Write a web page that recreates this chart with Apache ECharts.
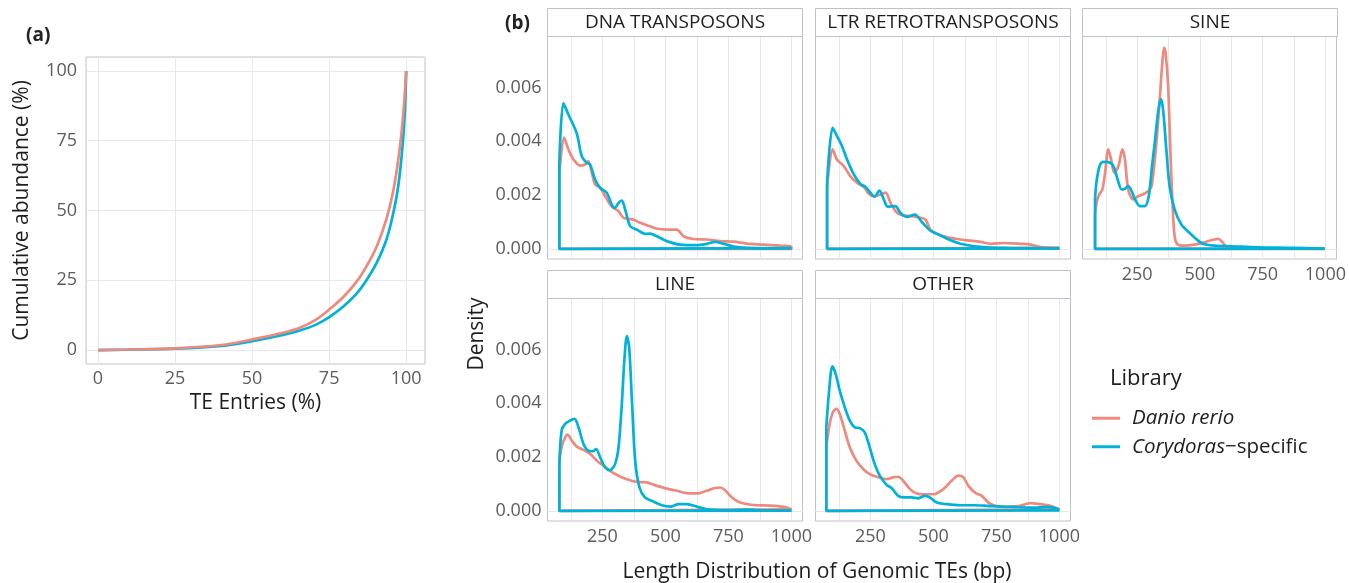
<!DOCTYPE html>
<html>
<head>
<meta charset="utf-8">
<script src="https://cdn.jsdelivr.net/npm/echarts@6/dist/echarts.min.js"></script>
<style>
html,body{margin:0;padding:0;background:#fff;}
#chart{width:1349px;height:583px;}
</style>
</head>
<body>
<div id="chart"></div>
<script>
// ---------- DATA ----------
const libraries = ['Danio rerio', 'Corydoras-specific'];
const facetNames = ['DNA TRANSPOSONS', 'LTR RETROTRANSPOSONS', 'SINE', 'LINE', 'OTHER'];

// Panel (a): cumulative abundance
const cumDanioX = [0, 10, 25, 40, 50, 60, 65.5, 70.9, 75, 79.6, 83.9, 87.1, 90.4, 93.6, 95.8, 97.4, 98.5, 99.4, 100];
const cumDanioY = [0, 0.2, 0.6, 1.8, 3.8, 6.2, 8, 11, 14.5, 19, 24.5, 30, 37, 47, 57, 68, 78, 89.6, 100];
const cumCoryX = [0, 10, 25, 40, 50, 60, 65.5, 70.9, 75, 79.6, 83.9, 87.1, 90.4, 93.6, 95.8, 97.4, 98.8, 99.6, 100];
const cumCoryY = [0, 0.15, 0.5, 1.5, 3.2, 5.4, 7, 9.2, 11.8, 15.6, 20.2, 25, 31.2, 39.6, 49, 58.6, 72.9, 86, 100];
const cumTicks = [0, 25, 50, 75, 100];

// Panel (b): length densities
const dnaDanioLen = [79, 98, 115, 135, 161, 181, 194, 208, 221, 241, 261, 287, 314, 333, 353, 373, 400, 439, 466, 505, 545, 572, 611, 664, 717, 770, 823, 889, 956, 1000];
const dnaDanioDens = [0.0028, 0.00414, 0.0037, 0.00333, 0.0031, 0.00314, 0.00327, 0.00283, 0.0024, 0.00227, 0.00196, 0.00157, 0.0014, 0.00116, 0.00112, 0.00109, 0.00097, 0.00084, 0.00075, 0.00072, 0.00072, 0.00047, 0.00037, 0.00035, 0.00029, 0.00027, 0.0002, 0.00016, 0.00012, 0.0001];
const dnaCoryLen = [79, 95, 115, 148, 168, 188, 201, 221, 241, 267, 287, 300, 314, 327, 340, 360, 386, 419, 439, 466, 505, 558, 625, 664, 697, 731, 770, 823, 956, 1000];
const dnaCoryDens = [0.0032, 0.00542, 0.005, 0.0043, 0.00345, 0.0032, 0.00314, 0.00258, 0.00227, 0.00209, 0.00165, 0.00153, 0.00171, 0.0018, 0.00147, 0.00085, 0.00072, 0.00056, 0.00057, 0.00047, 0.00029, 0.00016, 0.00014, 0.00019, 0.00026, 0.00019, 0.00009, 0.00004, 0.00002, 0.00003];

const ltrDanioLen = [78, 100, 117, 144, 170, 197, 224, 243, 263, 290, 310, 330, 356, 383, 416, 449, 469, 488, 515, 555, 595, 634, 687, 727, 780, 846, 886, 926, 1000];
const ltrDanioDens = [0.0023, 0.0037, 0.00333, 0.00308, 0.00271, 0.00246, 0.0023, 0.00205, 0.00196, 0.00202, 0.00209, 0.00171, 0.00134, 0.00124, 0.00122, 0.00116, 0.00109, 0.00072, 0.00056, 0.00043, 0.00037, 0.00032, 0.00026, 0.00019, 0.00022, 0.00019, 0.00016, 0.00007, 0.00004];
const ltrCoryLen = [78, 100, 117, 137, 157, 184, 210, 230, 250, 266, 286, 303, 319, 349, 369, 396, 426, 455, 488, 528, 568, 608, 661, 714, 793, 899, 1000];
const ltrCoryDens = [0.00246, 0.00451, 0.0042, 0.00383, 0.00333, 0.00277, 0.00242, 0.00231, 0.00209, 0.00194, 0.00217, 0.00184, 0.00157, 0.00159, 0.00134, 0.00119, 0.00128, 0.00099, 0.00068, 0.0005, 0.00032, 0.00019, 0.0001, 0.00006, 0.00004, 0.00003, 0.00002];

const sineDanioLen = [82, 90, 100, 111, 122, 135, 146, 159, 175, 191, 201, 214, 234, 254, 280, 300, 309, 326, 340, 349, 357, 363, 373, 382, 390, 399, 412, 439, 478, 518, 557, 573, 590, 604, 637, 729, 861, 997];
const sineDanioDens = [0.0013, 0.0018, 0.00205, 0.00221, 0.00283, 0.0037, 0.00333, 0.00283, 0.00308, 0.0037, 0.00333, 0.00221, 0.00184, 0.00196, 0.00206, 0.00221, 0.0024, 0.0039, 0.0056, 0.0068, 0.00749, 0.0073, 0.0061, 0.0037, 0.00184, 0.00047, 0.00016, 0.00012, 0.00016, 0.00025, 0.00035, 0.00037, 0.00025, 0.0001, 0.00004, 0.00001, 0.00001, 0];
const sineCoryLen = [82, 89, 102, 115, 135, 155, 172, 188, 201, 214, 228, 241, 261, 280, 296, 309, 320, 333, 344, 353, 366, 379, 399, 426, 458, 485, 511, 558, 624, 729, 861, 997];
const sineCoryDens = [0.0019, 0.00258, 0.00314, 0.00324, 0.00323, 0.00308, 0.00258, 0.00221, 0.00224, 0.00234, 0.00215, 0.00184, 0.00159, 0.00159, 0.00196, 0.00308, 0.00395, 0.00507, 0.00557, 0.00519, 0.0037, 0.00234, 0.00147, 0.00091, 0.0006, 0.00037, 0.00019, 0.00012, 0.0001, 0.00006, 0.00004, 0.00001];

const lineDanioLen = [79, 88, 102, 111, 128, 148, 175, 201, 228, 254, 280, 314, 347, 386, 426, 466, 505, 545, 585, 625, 664, 697, 717, 737, 764, 797, 850, 916, 969, 1000];
const lineDanioDens = [0.00187, 0.00237, 0.00274, 0.00284, 0.00262, 0.00239, 0.00227, 0.00212, 0.00187, 0.00168, 0.00149, 0.00131, 0.00118, 0.00108, 0.00106, 0.00093, 0.00083, 0.00075, 0.00066, 0.00065, 0.00075, 0.00085, 0.00087, 0.00077, 0.0005, 0.00031, 0.00022, 0.0002, 0.00015, 0.00006];
const lineCoryLen = [79, 88, 102, 122, 139, 155, 175, 194, 212, 225, 241, 261, 280, 300, 314, 327, 337, 347, 356, 367, 380, 397, 419, 452, 486, 519, 552, 585, 625, 664, 757, 823, 889, 1000];
const lineCoryDens = [0.00174, 0.00299, 0.00324, 0.00336, 0.00342, 0.00311, 0.00249, 0.00224, 0.00222, 0.0023, 0.00199, 0.00162, 0.00152, 0.00174, 0.00237, 0.00399, 0.0056, 0.0065, 0.0061, 0.00411, 0.00187, 0.00087, 0.0005, 0.00035, 0.00021, 0.00016, 0.00025, 0.00025, 0.00016, 0.00006, 0.00003, 0.00005, 0.00002, 0.00001];

const otherDanioLen = [75, 88, 101, 115, 128, 148, 168, 194, 221, 247, 281, 314, 340, 360, 380, 407, 433, 466, 499, 539, 572, 599, 619, 639, 665, 692, 718, 745, 791, 844, 884, 924, 964, 1000];
const otherDanioDens = [0.00237, 0.00324, 0.00367, 0.0038, 0.00361, 0.00299, 0.00237, 0.00187, 0.00156, 0.00137, 0.00125, 0.00118, 0.00125, 0.00127, 0.00112, 0.00081, 0.00065, 0.00062, 0.00062, 0.00081, 0.00112, 0.00131, 0.00125, 0.00093, 0.00068, 0.00056, 0.00031, 0.00019, 0.00015, 0.00019, 0.00029, 0.00025, 0.00019, 0.00006];
const otherCoryLen = [75, 85, 99, 112, 128, 148, 168, 188, 208, 227, 247, 267, 287, 314, 334, 360, 387, 413, 440, 466, 486, 513, 553, 606, 659, 712, 765, 818, 898, 951, 984, 1000];
const otherCoryDens = [0.00311, 0.00436, 0.00538, 0.0051, 0.00448, 0.00386, 0.00336, 0.00311, 0.00308, 0.00293, 0.00237, 0.00174, 0.00131, 0.00097, 0.00085, 0.00056, 0.0005, 0.0005, 0.00047, 0.00056, 0.0005, 0.00031, 0.00025, 0.00021, 0.00021, 0.00019, 0.00016, 0.00015, 0.00012, 0.00015, 0.0001, 0.00002];

const lenLabelTicks = [250, 500, 750, 1000];
const lenGridTicks = [125, 250, 375, 500, 625, 750, 875, 1000];
const densLabelTicks = [0, 0.002, 0.004, 0.006];
const densGridTicks = [0, 0.001, 0.002, 0.003, 0.004, 0.005, 0.006, 0.007];

// ---------- STYLE / LAYOUT ----------
const FONT = "'Open Sans', sans-serif";
const RED = '#EE8A7D';
const BLUE = '#00B2D8';
const BORDER = '#BEC2C8';
const GRIDC = '#E6E8EC';
const TICKC = '#5C5C5C';
const TEXTC = '#1E1E1E';
const LW = 2.7;

const facetBoxes = [
  {left: 547.5, top: 36.5}, {left: 815.5, top: 36.5}, {left: 1082.5, top: 36.5},
  {left: 547.5, top: 298.5}, {left: 815.5, top: 298.5}
];
const FW = 255, FH = 222.5, STRIPH = 28;
const showXLabels = [false, false, true, true, true];
const showYLabels = [true, false, false, true, false];
const facetData = [
  [dnaDanioLen, dnaDanioDens, dnaCoryLen, dnaCoryDens],
  [ltrDanioLen, ltrDanioDens, ltrCoryLen, ltrCoryDens],
  [sineDanioLen, sineDanioDens, sineCoryLen, sineCoryDens],
  [lineDanioLen, lineDanioDens, lineCoryLen, lineCoryDens],
  [otherDanioLen, otherDanioDens, otherCoryLen, otherCoryDens]
];

const grids = [{left: 86, top: 57, width: 339, height: 307, show: true, borderColor: BORDER, borderWidth: 1, backgroundColor: '#fff'}];
const xAxes = [{
  type: 'value', gridIndex: 0, min: -3.9, max: 106.1,
  name: 'TE Entries (%)', nameLocation: 'middle', nameGap: 27,
  nameTextStyle: {fontFamily: FONT, fontSize: 21, color: TEXTC},
  axisLine: {show: false}, axisTick: {show: false},
  axisLabel: {customValues: cumTicks, fontFamily: FONT, fontSize: 18, color: TICKC, margin: 6, formatter: v => String(v)},
  splitLine: {show: false}
}];
const yAxes = [{
  type: 'value', gridIndex: 0, min: -5, max: 105,
  name: 'Cumulative abundance (%)', nameLocation: 'middle', nameGap: 53,
  nameTextStyle: {fontFamily: FONT, fontSize: 21, color: TEXTC},
  axisLine: {show: false}, axisTick: {show: false},
  axisLabel: {customValues: cumTicks, fontFamily: FONT, fontSize: 18, color: TICKC, margin: 9, formatter: v => String(v)},
  splitLine: {show: false}
}];

const series = [];
function lineSeries(name, color, pts, gi, smooth, z) {
  return {
    type: 'line', name: name, xAxisIndex: gi, yAxisIndex: gi, data: pts,
    smooth: smooth, symbol: 'none', showSymbol: false,
    lineStyle: {color: color, width: LW}, itemStyle: {color: color},
    z: z, silent: true, animation: false, clip: true
  };
}
// panel grid lines drawn through the axes' own scales
function gridLineSeries(gi, xVals, yVals, anchor) {
  return {
    type: 'line', xAxisIndex: gi, yAxisIndex: gi, data: [anchor],
    symbol: 'none', showSymbol: false, lineStyle: {opacity: 0}, silent: true, z: 1, animation: false,
    markLine: {
      z: 1, zlevel: 0,
      silent: true, symbol: ['none', 'none'], label: {show: false}, animation: false,
      lineStyle: {color: GRIDC, width: 1, type: 'solid'},
      emphasis: {disabled: true},
      data: xVals.map(v => ({xAxis: v})).concat(yVals.map(v => ({yAxis: v})))
    }
  };
}
series.push(gridLineSeries(0, cumTicks, cumTicks, [0, 0]));
// panel (a): blue first, red on top
series.push(lineSeries(libraries[1], BLUE, cumCoryX.map((x, i) => [x, cumCoryY[i]]), 0, 0.3, 6));
series.push(lineSeries(libraries[0], RED, cumDanioX.map((x, i) => [x, cumDanioY[i]]), 0, 0.3, 7));

const graphics = [];
facetBoxes.forEach((b, k) => {
  const gi = k + 1;
  grids.push({left: b.left, top: b.top, width: FW, height: FH, show: true, borderColor: BORDER, borderWidth: 1, backgroundColor: '#fff'});
  xAxes.push({
    type: 'value', gridIndex: gi, min: 32, max: 1044,
    axisLine: {show: false}, axisTick: {show: false},
    axisLabel: {show: showXLabels[k], customValues: lenLabelTicks, fontFamily: FONT, fontSize: 18, color: TICKC, margin: 7,
      formatter: v => String(v)},
    splitLine: {show: false}
  });
  yAxes.push({
    type: 'value', gridIndex: gi, min: -0.000375, max: 0.0079,
    axisLine: {show: false}, axisTick: {show: false},
    axisLabel: {show: showYLabels[k], customValues: densLabelTicks, fontFamily: FONT, fontSize: 18, color: TICKC, margin: 6,
      formatter: v => v.toFixed(3)},
    splitLine: {show: false}
  });
  series.push(gridLineSeries(gi, lenGridTicks, densGridTicks, [500, 0]));
  const d = facetData[k];
  [[d[0], d[1], libraries[0], RED, 6], [d[2], d[3], libraries[1], BLUE, 7]].forEach(([xs, ys, nm, col, z]) => {
    const n = xs.length;
    series.push(lineSeries(nm, col, xs.map((x, i) => [x, ys[i]]), gi, 0.3, z));
    series.push(lineSeries(nm, col, [[xs[n - 1], ys[n - 1]], [xs[n - 1], 0], [xs[0], 0], [xs[0], ys[0]]], gi, false, z));
  });
  // facet strip
  graphics.push({type: 'rect', silent: true, z: 10,
    shape: {x: b.left, y: b.top - STRIPH, width: FW, height: STRIPH},
    style: {fill: '#fff', stroke: BORDER, lineWidth: 1}});
  graphics.push({type: 'text', silent: true, z: 11,
    x: b.left + FW / 2, y: b.top - STRIPH / 2,
    style: {text: facetNames[k], fontFamily: FONT, fontSize: 19, fill: TEXTC, align: 'center', verticalAlign: 'middle'}});
});

graphics.push({type: 'text', silent: true, x: 26, y: 36, style: {text: '(a)', fontFamily: FONT, fontWeight: 'bold', fontSize: 19, fill: '#222', verticalAlign: 'middle'}});
graphics.push({type: 'text', silent: true, x: 505, y: 24, style: {text: '(b)', fontFamily: FONT, fontWeight: 'bold', fontSize: 19, fill: '#222', verticalAlign: 'middle'}});
graphics.push({type: 'text', silent: true, x: 477, y: 334, rotation: Math.PI / 2,
  style: {text: 'Density', fontFamily: FONT, fontSize: 21, fill: TEXTC, align: 'center', verticalAlign: 'middle'}});
graphics.push({type: 'text', silent: true, x: 817, y: 572,
  style: {text: 'Length Distribution of Genomic TEs (bp)', fontFamily: FONT, fontSize: 21, fill: TEXTC, align: 'center', verticalAlign: 'middle'}});
graphics.push({type: 'text', silent: true, x: 1110, y: 379,
  style: {text: 'Library', fontFamily: FONT, fontSize: 22, fill: TEXTC, align: 'left', verticalAlign: 'middle'}});

const option = {
  backgroundColor: '#fff',
  animation: false,
  grid: grids,
  xAxis: xAxes,
  yAxis: yAxes,
  series: series,
  graphic: graphics,
  legend: {
    data: libraries,
    orient: 'vertical',
    left: 1087, top: 399,
    icon: 'rect', itemWidth: 28, itemHeight: 3, itemGap: 0,
    selectedMode: false,
    textStyle: {fontFamily: FONT, fontSize: 20.5, color: TEXTC, lineHeight: 28.5, padding: [0, 0, 0, 7],
      rich: {
        i: {fontFamily: FONT, fontSize: 20.5, fontStyle: 'italic', color: TEXTC, lineHeight: 28.5},
        n: {fontFamily: FONT, fontSize: 20.5, color: TEXTC, lineHeight: 28.5}
      }},
    formatter: function (name) {
      if (name === libraries[1]) return '{i|Corydoras}{n|\u2212specific}';
      return '{i|' + name + '}';
    }
  }
};

const chart = echarts.init(document.getElementById('chart'), null, {renderer: 'canvas'});
chart.setOption(option);
</script>
</body>
</html>
